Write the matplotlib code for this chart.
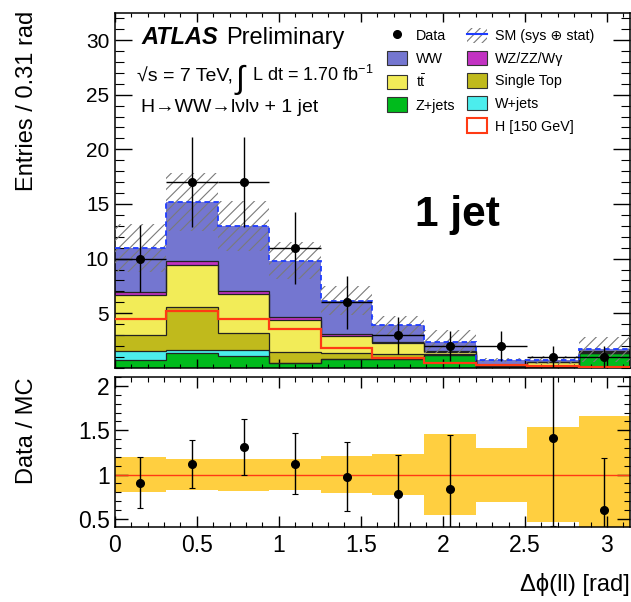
import numpy as np
import matplotlib
matplotlib.use("Agg")
import matplotlib.pyplot as plt
from matplotlib.patches import Patch
from matplotlib.lines import Line2D
from matplotlib.ticker import MultipleLocator, FormatStrFormatter

plt.rcParams['font.family'] = ['Liberation Sans', 'DejaVu Sans']
plt.rcParams['mathtext.fontset'] = 'custom'
plt.rcParams['mathtext.rm'] = 'Liberation Sans'
plt.rcParams['mathtext.it'] = 'Liberation Sans:italic'
plt.rcParams['hatch.linewidth'] = 0.8

# binning of delta phi(ll)
n_bins = 10
x_max = np.pi

# data
data = [10, 17, 17, 11, 6, 3, 2, 2, 1, 1]
data_err = [3.1, 4.1, 4.1, 3.3, 2.45, 1.7, 1.4, 1.4, 1.0, 1.0]

# backgrounds, bottom to top of the stack
zjets = [0.70, 1.40, 1.10, 0.45, 0.85, 0.84, 1.20, 0.05, 0.10, 1.35]
wjets = [0.87, 0.27, 0.57, 0.00, 0.00, 0.00, 0.00, 0.00, 0.00, 0.00]
single_top = [1.43, 3.90, 1.49, 1.05, 0.54, 0.46, 0.10, 0.05, 0.10, 0.05]
ttbar = [3.70, 3.81, 3.64, 2.85, 1.51, 1.00, 0.20, 0.10, 0.30, 0.10]
wz_zz_wg = [0.25, 0.42, 0.24, 0.31, 0.20, 0.10, 0.05, 0.05, 0.05, 0.05]
ww = [4.05, 5.40, 5.96, 5.15, 3.05, 1.50, 0.85, 0.47, 0.17, 0.15]
sm_err = [2.2, 2.65, 2.3, 1.7, 1.3, 0.88, 1.08, 0.22, 0.38, 1.12]

# signal H [150 GeV]
higgs = [4.44, 5.24, 4.44, 3.56, 1.85, 0.90, 0.42, 0.27, 0.15, 0.12]

# ratio panel
ratio = [0.91, 1.117, 1.31, 1.124, 0.974, 0.776, 0.842, np.nan, 1.417, 0.598]
ratio_err = [0.285, 0.27, 0.315, 0.34, 0.39, 0.445, 0.60, np.nan, 1.0, 0.59]
ratio_band = [0.20, 0.175, 0.18, 0.173, 0.207, 0.23, 0.453, 0.305, 0.534, 0.665]

stack_names = ['Z+jets', 'W+jets', 'Single Top', r'$\mathrm{t\bar{t}}$', 'WZ/ZZ/W\u03b3', 'WW']
stack_values = [zjets, wjets, single_top, ttbar, wz_zz_wg, ww]
stack_colors = ['#00BB1C', '#4CEDED', '#C0BA1C', '#F2EC58', '#C232C2', '#7476D0']

W, H = 631, 602


def fx(px):
    return px / W


def fy(py):
    return 1 - py / H


fig = plt.figure(figsize=(W / 100, H / 100), dpi=100)
ax = fig.add_axes([fx(114.7), fy(367.9), 515.5 / W, 354.6 / H])
rax = fig.add_axes([fx(114.7), fy(527.3), 515.5 / W, 150.6 / H])

edges = np.linspace(0, x_max, n_bins + 1)
centers = 0.5 * (edges[1:] + edges[:-1])
half_w = 0.5 * (edges[1] - edges[0])

# stacked histogram
bottom = np.zeros(n_bins)
tops = []
for vals, col in zip(stack_values, stack_colors):
    top = bottom + np.array(vals)
    ax.stairs(top, edges, baseline=bottom, fill=True, color=col, lw=0, zorder=1)
    tops.append(top)
    bottom = top
for top in tops[:-1]:
    ax.stairs(top, edges, baseline=None, color='#222222', lw=0.9, zorder=2)
total = tops[-1]

# uncertainty hatch and SM outline
ax.stairs(total + np.array(sm_err), edges, baseline=total - np.array(sm_err),
          fill=True, facecolor='none', edgecolor='#7a7a7a', hatch='///', lw=0, zorder=3)
ax.stairs(total, edges, baseline=None, color='#1E3CFF', lw=1.3, ls=(0, (3, 2)), zorder=4)

# signal
ax.stairs(higgs, edges, baseline=None, color='#FF3A14', lw=1.6, zorder=4)

# data
ax.errorbar(centers, data, yerr=data_err, xerr=half_w, fmt='o', color='black',
            markersize=5.5, elinewidth=1.0, capsize=0, zorder=5)

ax.set_xlim(0, x_max)
ax.set_ylim(0, 32.45)
ax.yaxis.set_major_locator(MultipleLocator(5))
ax.yaxis.set_minor_locator(MultipleLocator(1))
ax.set_yticks([5, 10, 15, 20, 25, 30])
ax.xaxis.set_major_locator(MultipleLocator(0.5))
ax.xaxis.set_minor_locator(MultipleLocator(0.1))
ax.tick_params(which='both', direction='in', top=True, right=True, labelbottom=False)
ax.tick_params(axis='y', which='major', length=12, width=1, labelsize=15, pad=4)
ax.tick_params(axis='y', which='minor', length=6.5, width=0.8)
ax.tick_params(axis='x', which='major', length=6.3, width=1)
ax.tick_params(axis='x', which='minor', length=3, width=0.8)

# legend
data_h = Line2D([], [], marker='o', color='black', ls='none', markersize=5.5)
blank_h = Patch(facecolor='none', edgecolor='none')
sm_h = (Patch(facecolor='white', edgecolor='#7a7a7a', hatch='////', lw=0),
        Line2D([], [], color='#1E3CFF', lw=1.5))
box = {name: Patch(facecolor=c, edgecolor='#333333', lw=0.8)
       for name, c in zip(stack_names, stack_colors)}
h_h = Patch(facecolor='white', edgecolor='#FF3A14', lw=1.5)
handles = [data_h, box['WW'], box[stack_names[3]], box['Z+jets'], blank_h,
           sm_h, box[stack_names[4]], box['Single Top'], box['W+jets'], h_h]
labels = ['Data', 'WW', stack_names[3], 'Z+jets', '',
          'SM (sys \u2295 stat)', stack_names[4], 'Single Top', 'W+jets', 'H [150 GeV]']
ax.legend(handles, labels, ncol=2, loc='upper left', bbox_to_anchor=(fx(387), fy(28)),
          bbox_transform=fig.transFigure, frameon=False, fontsize=10.3,
          handlelength=1.4, handleheight=1.2, handletextpad=0.6,
          columnspacing=0.8, labelspacing=0.52, borderpad=0, borderaxespad=0)

# labels on the plot
fig.text(fx(141), fy(44), 'ATLAS', fontsize=17, fontweight='bold', fontstyle='italic', va='baseline')
fig.text(fx(226), fy(44), 'Preliminary', fontsize=17, va='baseline')
fig.text(fx(137), fy(81), '\u221as = 7 TeV,', fontsize=14, va='baseline')
fig.text(fx(236), fy(88), '\u222b', fontsize=23, va='baseline')
fig.text(fx(252), fy(81), 'L dt = 1.70 fb$^{-1}$', fontsize=13, va='baseline')
fig.text(fx(141), fy(112), 'H\u2192WW\u2192l\u03bdl\u03bd + 1 jet', fontsize=14, va='baseline')
fig.text(fx(415), fy(226), '1 jet', fontsize=30.5, fontweight='bold', va='baseline')

# ratio panel
rax.stairs(1 + np.array(ratio_band), edges, baseline=1 - np.array(ratio_band),
           fill=True, color='#FFCF40', lw=0, zorder=1)
rax.axhline(1, color='#FF3A14', lw=1.0, zorder=2)
rax.errorbar(centers, ratio, yerr=ratio_err, fmt='o', color='black', markersize=5.5,
             elinewidth=1.0, capsize=2, capthick=0.8, zorder=3)
rax.set_xlim(0, x_max)
rax.set_ylim(0.405, 2.105)
rax.yaxis.set_major_locator(MultipleLocator(0.5))
rax.yaxis.set_minor_locator(MultipleLocator(0.1))
rax.xaxis.set_major_locator(MultipleLocator(0.5))
rax.xaxis.set_minor_locator(MultipleLocator(0.1))
rax.yaxis.set_major_formatter(FormatStrFormatter('%g'))
rax.xaxis.set_major_formatter(FormatStrFormatter('%g'))
rax.tick_params(which='both', direction='in', top=True, right=True)
rax.tick_params(axis='y', which='major', length=9.4, width=1, labelsize=16.5, pad=3.4)
rax.tick_params(axis='y', which='minor', length=4.1, width=0.8)
rax.tick_params(axis='x', which='major', length=7.9, width=1, labelsize=16.5, pad=4.5)
rax.tick_params(axis='x', which='minor', length=3.6, width=0.8)

for a in (ax, rax):
    for s in a.spines.values():
        s.set_linewidth(1.1)

fig.text(fx(27), fy(11), 'Entries / 0.31 rad', rotation=90, ha='center', va='top', fontsize=17)
fig.text(fx(27), fy(377), 'Data / MC', rotation=90, ha='center', va='top', fontsize=17)
fig.text(fx(630), fy(585), '\u0394\u03d5(ll) [rad]', ha='right', va='center', fontsize=17)

fig.savefig('out.png', dpi=100)
